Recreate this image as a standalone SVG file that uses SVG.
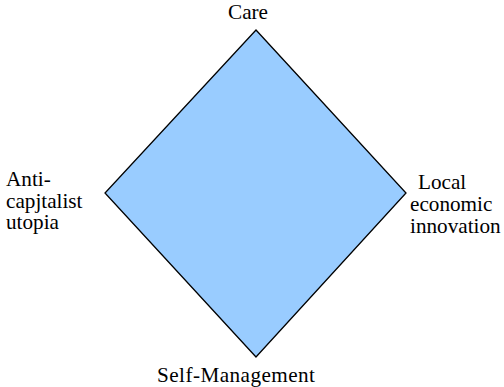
<svg xmlns="http://www.w3.org/2000/svg" width="504" height="387" viewBox="0 0 504 387">
  <style>
    .shape { fill: #99ccff; stroke: #000; stroke-width: 1.3; }
    text { font-family: "Times New Roman", "Liberation Serif", Times, serif; font-size: 21.2px; fill: #000; }
  </style>
  <rect width="504" height="387" fill="#fff"/>
  <g id="diamond">
    <polygon class="shape" points="256,30 406,193 256,357 105,193"/>
  </g>
  <g id="care">
    <text x="228" y="18.5">Care</text>
  </g>
  <g id="anti-capitalist">
    <text x="6" y="186">Anti-</text>
    <text x="6" y="207.5">capjtalist</text>
    <text x="6" y="229">utopia</text>
  </g>
  <g id="local-economic">
    <text x="418" y="188.5">Local</text>
    <text x="410" y="210.5">economic</text>
    <text x="410" y="232.5">innovation</text>
  </g>
  <g id="self-management">
    <text x="157" y="381.5" textLength="158" lengthAdjust="spacing">Self-Management</text>
  </g>
</svg>
